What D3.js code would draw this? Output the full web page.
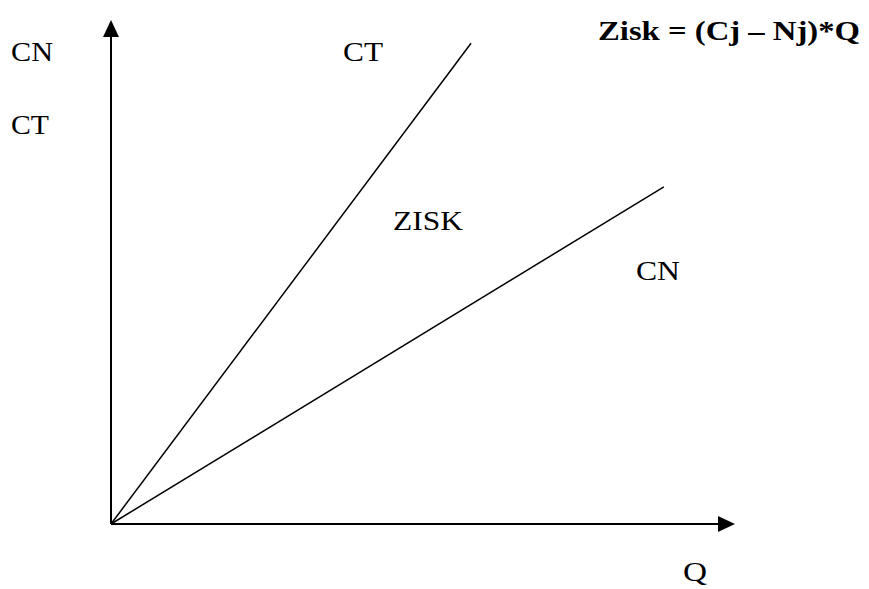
<!DOCTYPE html>
<html><head><meta charset="utf-8">
<script src="https://cdn.jsdelivr.net/npm/d3@7"></script>
<style>html,body{margin:0;padding:0;background:#fff;}svg{display:block;}</style>
</head><body>
<script>
// Data (relative units)
const lineNames = ["CT", "CN"];
const lineEndX = [5.77, 8.86];
const lineEndY = [9.54, 6.69];
const axisMax = [10, 10];
const formula = "Zisk = (Cj \u2013 Nj)*Q";

const W = 869, H = 589;
const svg = d3.select("body").append("svg").attr("width", W).attr("height", H);
const x = d3.scaleLinear().domain([0, axisMax[0]]).range([111, 735]);
const y = d3.scaleLinear().domain([0, axisMax[1]]).range([524, 20]);

// lines
lineNames.forEach((n, i) => {
  svg.append("line")
    .attr("x1", x(0)).attr("y1", y(0))
    .attr("x2", x(lineEndX[i])).attr("y2", y(lineEndY[i]))
    .attr("stroke", "#000").attr("stroke-width", 1.5);
});

// axes
svg.append("line").attr("x1", x(0)).attr("y1", y(0)).attr("x2", x(0)).attr("y2", y(axisMax[1]) + 14)
  .attr("stroke", "#000").attr("stroke-width", 2);
svg.append("line").attr("x1", x(0)).attr("y1", y(0)).attr("x2", x(axisMax[0]) - 14).attr("y2", y(0))
  .attr("stroke", "#000").attr("stroke-width", 2);
// arrowheads
const ty = y(axisMax[1]), tx = x(0);
svg.append("path").attr("d", `M${tx},${ty} L${tx - 8},${ty + 17} L${tx + 8},${ty + 17} Z`).attr("fill", "#000");
const rx = x(axisMax[0]), ry = y(0);
svg.append("path").attr("d", `M${rx},${ry} L${rx - 17},${ry - 8} L${rx - 17},${ry + 8} Z`).attr("fill", "#000");

function label(t, lx, by, len, bold) {
  svg.append("text").attr("x", lx).attr("y", by).text(t)
    .attr("font-family", "'Liberation Serif','Times New Roman',serif")
    .attr("font-size", 28).attr("font-weight", bold ? "bold" : "normal")
    .attr("textLength", len).attr("lengthAdjust", "spacingAndGlyphs")
    .attr("fill", "#000");
}
label("CN", 11, 61, 42);
label("CT", 11, 134, 38);
label(lineNames[0], 343, 61, 40);
label("ZISK", 393, 230, 70);
label(lineNames[1], 636, 280, 44);
label("Q", 683, 581, 24);
label(formula, 598, 40, 262, true);
</script>
</body></html>
